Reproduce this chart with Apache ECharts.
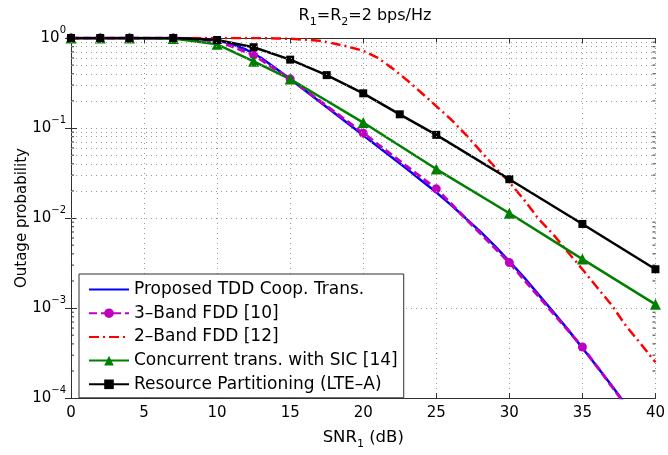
<!DOCTYPE html>
<html><head><meta charset="utf-8">
<script src="https://cdn.jsdelivr.net/npm/echarts@6/dist/echarts.min.js"></script>
<style>html,body{margin:0;padding:0;background:#fff}#c{width:668px;height:455px}</style>
</head><body><div id="c"></div>
<script>
// ---------- data ----------
const seriesNames = [
  'Proposed TDD Coop. Trans.',
  '3\u2013Band FDD [10]',
  '2\u2013Band FDD [12]',
  'Concurrent trans. with SIC [14]',
  'Resource Partitioning (LTE\u2013A)'
];
const xTicks = [0, 5, 10, 15, 20, 25, 30, 35, 40];
const yDecades = [1e-4, 1e-3, 1e-2, 1e-1, 1];
const yMinorGrid = [
  2e-4,3e-4,4e-4,5e-4,6e-4,7e-4,8e-4,9e-4,
  2e-3,3e-3,4e-3,5e-3,6e-3,7e-3,8e-3,9e-3,
  2e-2,3e-2,4e-2,5e-2,6e-2,7e-2,8e-2,9e-2,
  0.2,0.3,0.4,0.5,0.6,0.7,0.8,0.9
];

// Proposed TDD (smooth curve, read every 1 dB)
const proposedX = [0,1,2,3,4,5,6,7,8,9,10,11,12,13,14,15,16,17,18,19,20,21,22,23,24,25,26,27,28,29,30,31,32,33,34,35,36,37,38,39,40];
const proposedY = [1,1,1,1,1,1,1,0.999,0.995,0.975,0.935,0.86,0.74,0.603,0.462,0.351,0.263,0.197,0.148,0.111,0.0832,0.0624,0.0468,0.0351,0.026,0.0193,0.014,0.01,0.0071,0.0049,0.0033,0.0022,0.00141,0.00091,0.00058,0.00036,0.000224,0.000138,0.000083,0.00005,0.00003];

// 3-Band FDD (markers)
const band3X = [0,2,4,7,10,12.5,15,20,25,30,35,40];
const band3Y = [1,1,1,1,0.93,0.65,0.35,0.0877,0.0211,0.0032,0.00037,0.00003];

// 2-Band FDD (smooth curve, read every 1 dB)
const band2X = [0,1,2,3,4,5,6,7,8,9,10,11,12,13,14,15,16,17,18,19,20,21,22,23,24,25,26,27,28,29,30,31,32,33,34,35,36,37,38,39,40];
const band2Y = [1,1,1,1,1,1,1,1,1,1,1,1,0.999,0.997,0.99,0.98,0.96,0.93,0.87,0.8,0.72,0.6,0.46,0.34,0.245,0.175,0.125,0.085,0.056,0.037,0.025,0.016,0.0098,0.0066,0.0042,0.0027,0.0017,0.00108,0.00063,0.0004,0.00025];

// Concurrent trans. with SIC
const sicX = [0,2,4,7,10,12.5,15,20,25,30,35,40];
const sicY = [1,1,1,0.99,0.85,0.55,0.35,0.115,0.035,0.0113,0.0035,0.0011];

// Resource Partitioning (LTE-A)
const rpX = [0,2,4,7,10,12.5,15,17.5,20,22.5,25,30,35,40];
const rpY = [1,1,1,1,0.95,0.79,0.575,0.387,0.243,0.142,0.084,0.027,0.0086,0.0027];

// ---------- chart ----------
const FONT = 'DejaVu Sans';
const zip = (xs, ys) => xs.map((x, i) => [x, ys[i]]);
const gridStyle = { type: [1, 4], color: '#999999', width: 1 };
const axisCol = '#303030';

const expLabel = v => {
  const e = Math.round(Math.log10(v));
  return '{b|10}{e|' + String(e).replace('-', '\u2212') + '}';
};

const chart = echarts.init(document.getElementById('c'), null, { renderer: 'canvas' });
chart.setOption({
  animation: false,
  backgroundColor: '#fff',
  grid: { left: 71, right: 9, top: 38, bottom: 50, containLabel: false },
  graphic: [{
    type: 'text', x: 365, y: 16,
    style: {
      text: '{n|R}{s|1}{n|=R}{s|2}{n|=2 bps/Hz}',
      align: 'center', verticalAlign: 'middle',
      rich: {
        n: { fontFamily: FONT, fontSize: 16, fill: '#000', lineHeight: 16, verticalAlign: 'middle' },
        s: { fontFamily: FONT, fontSize: 11, fill: '#000', lineHeight: 11, padding: [13, 0, 0, 0], verticalAlign: 'middle' }
      }
    }
  }],
  legend: {
    orient: 'vertical', left: 79, top: 274,
    data: [
      { name: seriesNames[0], itemStyle: { opacity: 0 } },
      { name: seriesNames[1] },
      { name: seriesNames[2], itemStyle: { opacity: 0 } },
      { name: seriesNames[3] },
      { name: seriesNames[4] }
    ],
    backgroundColor: '#fff', borderColor: axisCol, borderWidth: 1,
    padding: [7, 6, 5, 9],
    itemWidth: 40, itemHeight: 12, itemGap: 6.7,
    textStyle: { fontFamily: FONT, fontSize: 17, color: '#000' }
  },
  xAxis: [{
    type: 'value', min: 0, max: 40, interval: 5, position: 'bottom',
    name: '{n|SNR}{s|1}{n| (dB)}', nameLocation: 'middle', nameGap: 24,
    nameTextStyle: {
      rich: {
        n: { fontFamily: FONT, fontSize: 16.5, color: '#000', lineHeight: 16, verticalAlign: 'middle' },
        s: { fontFamily: FONT, fontSize: 11, color: '#000', lineHeight: 11, padding: [13, 0, 0, 0], verticalAlign: 'middle' }
      }
    },
    axisLine: { lineStyle: { color: axisCol, width: 1 } },
    axisTick: { inside: true, length: 5, lineStyle: { color: axisCol } },
    axisLabel: { fontFamily: FONT, fontSize: 15, color: '#000', margin: 8 },
    splitLine: { show: true, lineStyle: gridStyle }
  }, {
    type: 'value', min: 0, max: 40, interval: 5, position: 'top',
    axisLine: { show: true, lineStyle: { color: axisCol, width: 1 } },
    axisTick: { show: true, inside: true, length: 5, lineStyle: { color: axisCol } },
    axisLabel: { show: false }, splitLine: { show: false }
  }],
  yAxis: [{
    type: 'log', logBase: 10, min: 1e-4, max: 1, position: 'left',
    name: 'Outage probability', nameLocation: 'middle', nameGap: 41, nameMoveOverlap: false,
    nameTextStyle: { fontFamily: FONT, fontSize: 15, color: '#000' },
    axisLine: { show: true, lineStyle: { color: axisCol, width: 1 } },
    axisTick: { show: true, inside: true, length: 6, lineStyle: { color: axisCol } },
    axisLabel: {
      margin: 5, formatter: expLabel,
      rich: {
        b: { fontFamily: FONT, fontSize: 15, color: '#000', lineHeight: 15, verticalAlign: 'middle' },
        e: { fontFamily: FONT, fontSize: 10, color: '#000', lineHeight: 10, padding: [0, 0, 16, 0], verticalAlign: 'middle' }
      }
    },
    splitLine: { show: true, lineStyle: gridStyle }
  }, {
    type: 'log', logBase: 10, min: 1e-4, max: 1, position: 'right',
    axisLine: { show: true, lineStyle: { color: axisCol, width: 1 } },
    axisTick: { show: true, inside: true, length: 6, lineStyle: { color: axisCol } },
    axisLabel: { show: false }, splitLine: { show: false }
  }],
  series: [
    {
      name: '__grid', type: 'line', data: [], silent: true,
      markLine: {
        silent: true, symbol: 'none', label: { show: false }, animation: false,
        lineStyle: gridStyle,
        emphasis: { disabled: true },
        data: yMinorGrid.map(v => ({ yAxis: v }))
      }
    },
    {
      name: '__ticks', type: 'custom', silent: true,
      data: yMinorGrid.map(v => [0, v]),
      encode: { x: 0, y: 1 },
      renderItem: (params, api) => {
        const y = api.coord([0, api.value(1)])[1];
        const cs = params.coordSys;
        const st = { stroke: axisCol, lineWidth: 1 };
        return {
          type: 'group', children: [
            { type: 'line', shape: { x1: cs.x, y1: y, x2: cs.x + 3, y2: y }, style: st },
            { type: 'line', shape: { x1: cs.x + cs.width - 3, y1: y, x2: cs.x + cs.width, y2: y }, style: st }
          ]
        };
      }
    },
    {
      name: seriesNames[0], type: 'line', data: zip(proposedX, proposedY),
      showSymbol: false, symbol: 'none', clip: true,
      lineStyle: { color: '#0000ff', width: 2.5 }, itemStyle: { color: '#0000ff' }
    },
    {
      name: seriesNames[1], type: 'line', data: zip(band3X, band3Y),
      symbol: 'circle', symbolSize: 9, showAllSymbol: true, clip: true,
      lineStyle: { color: '#c000c0', width: 3, type: [8, 4] }, itemStyle: { color: '#c000c0' }
    },
    {
      name: seriesNames[2], type: 'line', data: zip(band2X, band2Y),
      showSymbol: false, symbol: 'none', clip: true,
      lineStyle: { color: '#ff0000', width: 2.5, type: [10, 4, 2, 4] }, itemStyle: { color: '#ff0000' }
    },
    {
      name: seriesNames[3], type: 'line', data: zip(sicX, sicY),
      symbol: 'triangle', symbolSize: 11, showAllSymbol: true, clip: true,
      lineStyle: { color: '#008000', width: 2.5 }, itemStyle: { color: '#008000' }
    },
    {
      name: seriesNames[4], type: 'line', data: zip(rpX, rpY),
      symbol: 'rect', symbolSize: 8, showAllSymbol: true, clip: true,
      lineStyle: { color: '#000000', width: 2.5 }, itemStyle: { color: '#000000' }
    }
  ]
});
</script>
</body></html>
